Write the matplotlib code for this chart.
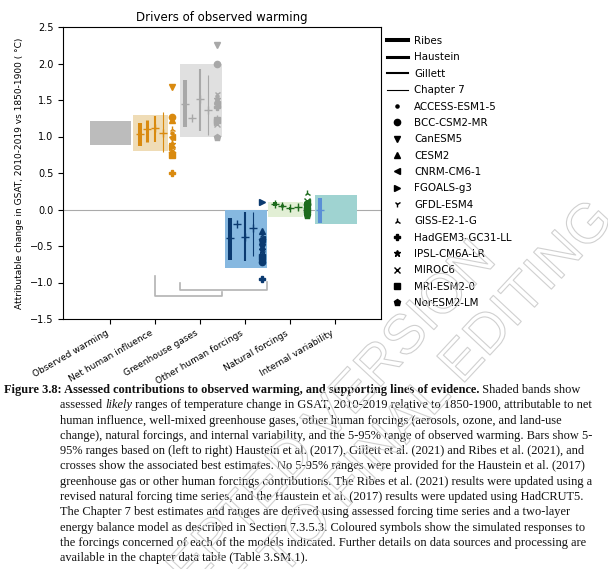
import matplotlib
matplotlib.use("Agg")
import matplotlib.pyplot as plt
import matplotlib.patheffects as pe
from matplotlib.lines import Line2D
import numpy as np

nan = np.nan

categories = ["Observed warming", "Net human influence", "Greenhouse gases",
              "Other human forcings", "Natural forcings", "Internal variability"]

# assessed likely ranges (shaded bands)
band_low = [0.88, 0.80, 1.00, -0.80, -0.10, -0.20]
band_high = [1.21, 1.30, 2.00, 0.00, 0.10, 0.20]

# 5-95% ranges and best estimates from the individual studies
ribes_best = [nan, 1.03, 1.45, -0.39, 0.075, 0.00]
ribes_low = [nan, 0.87, 1.13, -0.69, 0.05, -0.18]
ribes_high = [nan, 1.19, 1.77, -0.12, 0.10, 0.16]

haustein_best = [nan, 1.10, 1.26, -0.20, 0.05, nan]
haustein_low = [nan, 0.93, nan, nan, 0.03, nan]
haustein_high = [nan, 1.23, nan, nan, 0.07, nan]

gillett_best = [nan, 1.11, 1.51, -0.37, 0.02, nan]
gillett_low = [nan, 0.93, 1.07, -0.71, 0.00, nan]
gillett_high = [nan, 1.28, 1.93, -0.03, 0.04, nan]

ch7_best = [nan, 1.05, 1.36, -0.26, 0.03, nan]
ch7_low = [nan, 0.79, 1.02, -0.64, 0.00, nan]
ch7_high = [nan, 1.33, 1.84, -0.03, 0.06, nan]

models = ["ACCESS-ESM1-5", "BCC-CSM2-MR", "CanESM5", "CESM2", "CNRM-CM6-1",
          "FGOALS-g3", "GFDL-ESM4", "GISS-E2-1-G", "HadGEM3-GC31-LL",
          "IPSL-CM6A-LR", "MIROC6", "MRI-ESM2-0", "NorESM2-LM"]
model_markers = [".", "o", "v", "^", "<", ">", "1", "2", "P", "*", "x", "s", "p"]

# simulated responses, one value per model
models_ant = [1.05, 1.27, 1.68, 1.22, 1.00, 0.85, 0.95, 1.10, 0.50, 0.90, 0.80, 0.75, 0.78]
models_ghg = [1.55, 2.00, 2.25, 1.50, 1.45, 1.20, 1.58, 1.25, 1.40, 1.52, 1.17, 1.22, 1.00]
models_oth = [-0.45, -0.72, -0.52, -0.30, -0.40, 0.10, -0.60, -0.35, -0.95, -0.55, -0.50, -0.65, -0.42]
models_nat = [0.02, 0.08, 0.05, -0.03, 0.10, 0.00, 0.03, 0.22, 0.06, -0.05, 0.12, 0.00, -0.07]

band_colors = ["#bcbcbc", "#efdcb6", "#e0e0e0", "#86b8e0", "#e2efd5", "#9fd3d1"]
bar_colors = ["#888888", "#d98a0f", "#a8a8a8", "#0b3a70", "#1d6b1d", "#5a8fd6"]

W, H = 608, 569
fig = plt.figure(figsize=(W / 100, H / 100), dpi=100)
ax = fig.add_axes([63 / W, 1 - 319 / H, 318 / W, 292 / H])

x = np.arange(len(categories))
box_lo = [-0.45, -0.49, -0.45, -0.45, -0.49, -0.45]
box_hi = [0.47, 0.29, 0.50, 0.50, 0.29, 0.49]

ax.axhline(0, color="#aaaaaa", lw=0.8, zorder=0)

for i in x:
    ax.fill_between([i + box_lo[i], i + box_hi[i]], band_low[i], band_high[i],
                    color=band_colors[i], lw=0, zorder=1)

studies = [
    (ribes_best, ribes_low, ribes_high, -0.33, 2.9, "Ribes"),
    (haustein_best, haustein_low, haustein_high, -0.18, 2.2, "Haustein"),
    (gillett_best, gillett_low, gillett_high, 0.0, 1.5, "Gillett"),
    (ch7_best, ch7_low, ch7_high, 0.18, 0.8, "Chapter 7"),
]
for best, lo, hi, off, lw, name in studies:
    for i in x:
        c = bar_colors[i]
        if not np.isnan(lo[i]):
            ax.plot([i + off, i + off], [lo[i], hi[i]], color=c, lw=lw,
                    solid_capstyle="butt", zorder=3)
        if not np.isnan(best[i]):
            ax.plot(i + off, best[i], marker="+", ms=6, mew=1.0, color=c, zorder=4)

for i, vals in zip([1, 2, 3, 4], [models_ant, models_ghg, models_oth, models_nat]):
    for v, m in zip(vals, model_markers):
        ax.plot(i + 0.37, v, marker=m, ms=4.5, color=bar_colors[i], ls="none", zorder=5)

# brackets: net human = greenhouse gases + other human forcings
bc = "#b3b3b3"
ax.plot([1, 1, 2.49, 2.49], [-0.91, -1.18, -1.18, -1.13], color=bc, lw=1.2, zorder=2)
ax.plot([1.56, 1.56, 3.49, 3.49], [-1.01, -1.10, -1.10, -0.99], color=bc, lw=1.2, zorder=2)

ax.set_xlim(-1.04, 6.02)
ax.set_ylim(-1.5, 2.5)
ax.set_xticks(x)
ax.set_xticklabels(categories, rotation=30, ha="right", fontsize=6.5)
ax.tick_params(axis="y", labelsize=7)
ax.set_title("Drivers of observed warming", fontsize=8.5, pad=4)
ax.set_ylabel("Attributable change in GSAT, 2010-2019 vs 1850-1900 ( \u00b0C)", fontsize=6.5)

handles = [Line2D([], [], color="k", lw=lw) for *_, lw, _n in studies]
labels = [s[-1] for s in studies]
for name, m in zip(models, model_markers):
    handles.append(Line2D([], [], color="k", marker=m, ls="none", ms=4.5))
    labels.append(name)
ax.legend(handles, labels, loc="upper left", bbox_to_anchor=(1.0, 0.99),
          frameon=False, fontsize=7.4, borderaxespad=0.2, labelspacing=0.62,
          handletextpad=0.6)

# caption
renderer = fig.canvas.get_renderer()
cap_font = dict(family="Liberation Serif", fontsize=8.9, color="#111111")


def draw_line(x_px, y_px, segments):
    xx = x_px
    for txt, weight, style in segments:
        t = fig.text(xx / W, 1 - y_px / H, txt, va="baseline", weight=weight,
                     style=style, **cap_font)
        xx += t.get_window_extent(renderer).width


caption = [
    (4, [("Figure 3.8: Assessed contributions to observed warming, and supporting lines of evidence.", "bold", "normal"),
         (" Shaded bands show", "normal", "normal")]),
    (60, [("assessed ", "normal", "normal"), ("likely", "normal", "italic"),
          (" ranges of temperature change in GSAT, 2010-2019 relative to 1850-1900, attributable to net", "normal", "normal")]),
    (60, [("human influence, well-mixed greenhouse gases, other human forcings (aerosols, ozone, and land-use", "normal", "normal")]),
    (60, [("change), natural forcings, and internal variability, and the 5-95% range of observed warming. Bars show 5-", "normal", "normal")]),
    (60, [("95% ranges based on (left to right) Haustein et al. (2017), Gillett et al. (2021) and Ribes et al. (2021), and", "normal", "normal")]),
    (60, [("crosses show the associated best estimates. No 5-95% ranges were provided for the Haustein et al. (2017)", "normal", "normal")]),
    (60, [("greenhouse gas or other human forcings contributions. The Ribes et al. (2021) results were updated using a", "normal", "normal")]),
    (60, [("revised natural forcing time series, and the Haustein et al. (2017) results were updated using HadCRUT5.", "normal", "normal")]),
    (60, [("The Chapter 7 best estimates and ranges are derived using assessed forcing time series and a two-layer", "normal", "normal")]),
    (60, [("energy balance model as described in Section 7.3.5.3. Coloured symbols show the simulated responses to", "normal", "normal")]),
    (60, [("the forcings concerned of each of the models indicated. Further details on data sources and processing are", "normal", "normal")]),
    (60, [("available in the chapter data table (Table 3.SM.1).", "normal", "normal")]),
]
for k, (x0, segs) in enumerate(caption):
    draw_line(x0, 393 + 15.3 * k, segs)

# watermark (outline letters only)
wm = dict(family="Liberation Sans", fontsize=40, color="none", rotation=47,
          rotation_mode="anchor", ha="right", va="baseline", zorder=10,
          path_effects=[pe.Stroke(linewidth=0.8, foreground="#d0d0d0")])
fig.text(497 / W, 1 - 262 / H, "ACCEPTED VERSION", **wm)
fig.text(614 / W, 1 - 222 / H, "SUBJECT TO FINAL EDITING", **wm)

fig.savefig("out.png", dpi=100)
